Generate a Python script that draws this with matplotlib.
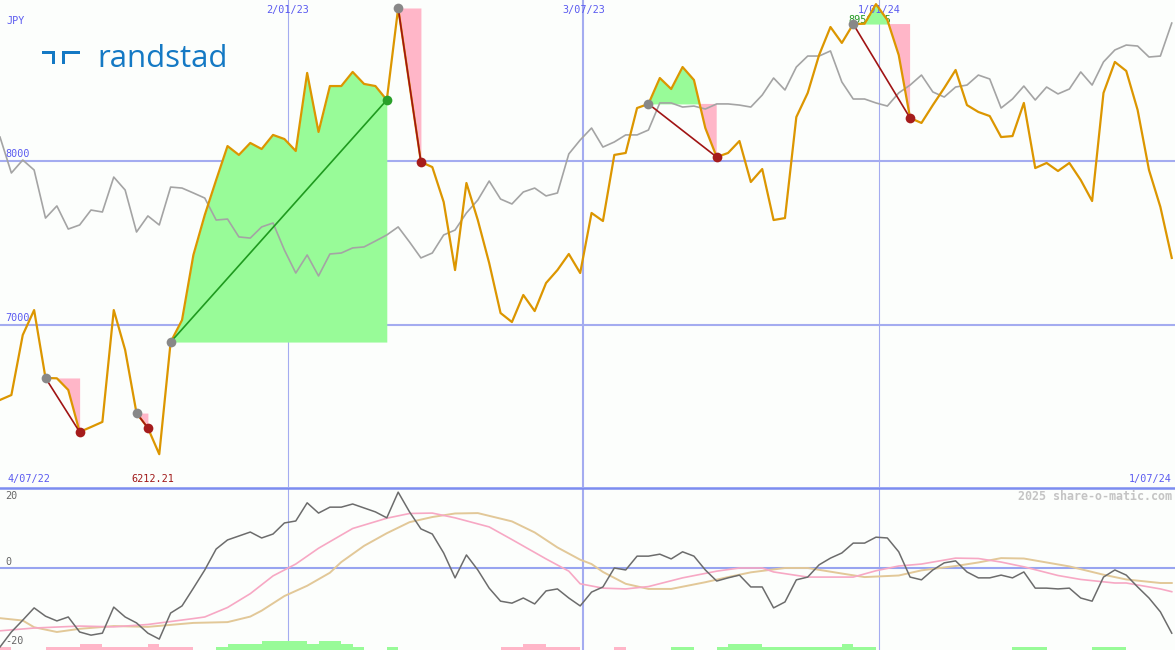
import numpy as np
import pandas as pd
import matplotlib
matplotlib.use("Agg")
import matplotlib.pyplot as plt
import matplotlib.dates as mdates
from matplotlib.patches import Rectangle
from matplotlib.lines import Line2D

# ---------------- data ----------------
dates = pd.date_range("2022-07-09", periods=104, freq="7D")
axis_start = "2022-07-04"
axis_end = "2024-07-01"
currency = "JPY"

price = [6543, 6573, 6939, 7091, 6677, 6675, 6604, 6348, 6378, 6409,
         7091, 6848, 6463, 6372, 6212.21, 6896, 7030, 7427, 7671, 7884,
         8091, 8037, 8110, 8073, 8159, 8134, 8061, 8537, 8177, 8457,
         8457, 8543, 8470, 8457, 8372, 8933, 8463, 7994, 7963, 7750,
         7335, 7866, 7640, 7378, 7073, 7018, 7183, 7085, 7256, 7335,
         7433, 7317, 7683, 7634, 8037, 8049, 8323, 8348, 8506, 8439,
         8573, 8494, 8201, 8024, 8049, 8122, 7872, 7951, 7640, 7652,
         8268, 8415, 8646, 8817, 8720, 8835, 8837, 8956.45, 8860, 8646,
         8262, 8232, 8341, 8445, 8555, 8341, 8299, 8274, 8146, 8152,
         8354, 7957, 7988, 7939, 7988, 7884, 7756, 8415, 8604, 8549,
         8311, 7945, 7720, 7409]

index_rel = [8146, 7927, 8006, 7945, 7652, 7726, 7585, 7610, 7701, 7689,
             7902, 7823, 7567, 7665, 7610, 7841, 7835, 7805, 7774, 7640,
             7646, 7537, 7530, 7598, 7622, 7457, 7317, 7427, 7299, 7433,
             7439, 7470, 7476, 7512, 7549, 7598, 7506, 7409, 7439, 7549,
             7579, 7683, 7762, 7878, 7768, 7738, 7811, 7835, 7787, 7805,
             8043, 8128, 8201, 8085, 8116, 8159, 8159, 8189, 8354, 8354,
             8329, 8335, 8317, 8348, 8348, 8341, 8329, 8402, 8506, 8433,
             8573, 8640, 8640, 8671, 8482, 8378, 8378, 8354, 8335, 8415,
             8463, 8524, 8421, 8390, 8451, 8463, 8524, 8500, 8323, 8378,
             8457, 8372, 8451, 8409, 8439, 8543, 8463, 8604, 8677, 8707,
             8701, 8634, 8640, 8841]

momentum = [-20.0, -16.2, -13.2, -10.1, -12.2, -13.4, -12.4, -16.2, -17.0, -16.5,
            -9.9, -12.4, -13.9, -16.5, -18.0, -11.4, -9.6, -5.1, -0.5, 4.8,
            7.1, 8.1, 9.1, 7.6, 8.6, 11.4, 11.9, 16.5, 13.9, 15.4,
            15.4, 16.2, 15.2, 14.2, 12.7, 19.2, 14.2, 9.9, 8.6, 3.8,
            -2.5, 3.3, -0.5, -5.1, -8.4, -8.9, -7.6, -9.1, -5.8, -5.3,
            -7.6, -9.6, -6.1, -4.8, 0.0, -0.5, 3.0, 3.0, 3.5, 2.3,
            4.1, 3.0, -0.5, -3.3, -2.5, -1.8, -4.8, -4.8, -10.1, -8.6,
            -3.0, -2.3, 0.8, 2.5, 3.8, 6.3, 6.3, 7.8, 7.6, 4.1,
            -2.3, -3.0, -0.5, 1.3, 1.8, -1.0, -2.5, -2.5, -1.8, -2.5,
            -1.0, -5.1, -5.1, -5.3, -5.1, -7.6, -8.4, -2.3, -0.5, -1.8,
            -4.8, -7.6, -11.1, -16.5]

sig_fast_wk = [0, 3, 7, 10, 13, 17, 18, 20, 22, 24, 26, 28, 31, 34, 36, 38, 40,
               43, 45, 48, 50, 51, 53, 55, 57, 60, 63, 65, 67, 68, 71, 75, 77,
               79, 81, 84, 86, 88, 90, 93, 95, 98, 99, 102, 103]
sig_fast = [-15.9, -15.2, -14.7, -14.9, -14.3, -12.8, -12.4, -10.0, -6.5, -2.0,
            1.0, 5.0, 10.0, 12.6, 13.8, 13.9, 12.7, 10.4, 7.2, 2.3, -0.8, -4.0,
            -5.1, -5.3, -4.7, -2.5, -0.8, 0.0, 0.0, -1.0, -2.3, -2.3, -0.7,
            0.5, 1.0, 2.5, 2.4, 1.5, 0.3, -1.9, -2.9, -3.8, -3.8, -5.3, -6.0]

sig_slow_wk = [0, 2, 3, 5, 7, 10, 13, 17, 20, 22, 23, 25, 27, 29, 30, 32, 34,
               36, 38, 40, 42, 45, 47, 49, 51, 52, 53, 55, 57, 59, 62, 64, 66,
               69, 71, 74, 76, 79, 81, 84, 86, 88, 90, 92, 94, 97, 99, 102, 103]
sig_slow = [-12.7, -13.3, -15.0, -16.2, -15.4, -14.7, -14.9, -13.9, -13.7, -12.3,
            -10.8, -7.1, -4.5, -1.2, 1.5, 5.6, 8.8, 11.6, 12.9, 13.8, 13.9, 11.8,
            9.0, 5.2, 2.1, 1.0, -1.0, -4.0, -5.3, -5.3, -3.6, -2.3, -1.1, 0.0,
            0.0, -1.4, -2.3, -1.9, -0.6, 0.5, 1.4, 2.5, 2.4, 1.4, 0.4, -1.7,
            -2.9, -3.8, -3.8]

hist_level = [-1, 0, 0, 0, -1, -1, -1, -2, -2, -1,
              -1, -1, -1, -2, -1, -1, -1, 0, 0, 1,
              2, 2, 2, 3, 3, 3, 3, 2, 3, 3,
              2, 1, 0, 0, 1, 0, 0, 0, 0, 0,
              0, 0, 0, 0, -1, -1, -2, -2, -1, -1,
              -1, 0, 0, 0, -1, 0, 0, 0, 0, 1,
              1, 0, 0, 1, 2, 2, 2, 1, 1, 1,
              1, 1, 1, 1, 2, 1, 1, 0, 0, 0,
              0, 0, 0, 0, 0, 0, 0, 0, 0, 1,
              1, 1, 0, 0, 0, 0, 1, 1, 1, 0,
              0, 0, 0, 0]

trades = [(4, 7), (12, 13), (15, 34), (35, 37), (57, 63), (75, 80)]

price_ticks = [8000, 7000]
osc_ticks = [20, 0, -20]
grid_dates = ["2023-01-02", "2023-07-03", "2024-01-01"]

# ---------------- style ----------------
W, H = 1175, 650
BG = "#fcfefc"
GRID = "#a4acf0"
BLUE_TXT = "#5a5af0"
ORANGE = "#dc9600"
GREY_LINE = "#a4a4a4"
GREEN_FILL = "#98fb98"
PINK_FILL = "#ffb6c8"
MONO = "DejaVu Sans Mono"


def fmt_date(t):
    t = pd.Timestamp(t)
    return f"{t.day}/{t.month:02d}/{t.strftime('%y')}"


def dnum(t):
    return mdates.date2num(pd.Timestamp(t).to_pydatetime())


def fig_xy(x, y):
    return (x / W, 1 - y / H)


fig = plt.figure(figsize=(W / 100, H / 100), dpi=100, facecolor=BG)
ax1 = fig.add_axes([0, 163 / H, 1, 487 / H])
ax2 = fig.add_axes([0, 0, 1, 162 / H])
for ax in (ax1, ax2):
    ax.axis("off")
    ax.set_xlim(dnum(dates[0]), dnum(axis_end))
ax1.set_ylim(6012.2, 8981.7)
ax2.set_ylim(-20.76, 20.25)

xd = mdates.date2num(dates.to_pydatetime())
price_arr = np.array(price, dtype=float)

# grid lines
for d in grid_dates:
    t = pd.Timestamp(d)
    lw = 1.5 if t.month == 7 else 0.8
    for ax in (ax1, ax2):
        ax.axvline(dnum(t), color=GRID, lw=lw, zorder=0)
    ax1.annotate(fmt_date(t), xy=(dnum(t), 1), xycoords=ax1.get_xaxis_transform(),
                 xytext=(0, -4.5), textcoords="offset pixels", ha="center", va="top",
                 color=BLUE_TXT, family=MONO, fontsize=7.3)

for v in price_ticks:
    ax1.axhline(v, color=GRID, lw=1.5, zorder=0)
    ax1.annotate(str(v), xy=(0, v), xycoords=ax1.get_yaxis_transform(),
                 xytext=(5, 2), textcoords="offset pixels", ha="left", va="bottom",
                 color=BLUE_TXT, family=MONO, fontsize=7.3)

ax2.axhline(0, color="#98a4f0", lw=1.5, zorder=0)
top_val = ax2.get_ylim()[1]
for v in osc_ticks:
    if v >= top_val - 2:
        ax2.annotate(str(v), xy=(0, 1), xycoords="axes fraction", xytext=(5, -3),
                     textcoords="offset pixels", ha="left", va="top",
                     color="#666666", family=MONO, fontsize=7.3)
    else:
        ax2.annotate(str(v), xy=(0, v), xycoords=ax2.get_yaxis_transform(),
                     xytext=(5, 1), textcoords="offset pixels", ha="left", va="bottom",
                     color="#666666", family=MONO, fontsize=7.3)

# comparison index and price
ax1.plot(xd, index_rel, color=GREY_LINE, lw=1.2, zorder=2)
ax1.plot(xd, price_arr, color=ORANGE, lw=1.6, zorder=3)

# trades
for s, e in trades:
    xs = xd[s:e + 1]
    ys = price_arr[s:e + 1]
    base = price_arr[s]
    ax1.fill_between(xs, ys, base, where=ys >= base, interpolate=True,
                     color=GREEN_FILL, lw=0, zorder=1)
    ax1.fill_between(xs, ys, base, where=ys <= base, interpolate=True,
                     color=PINK_FILL, lw=0, zorder=1)
    win = price_arr[e] > base
    lc = "#1f9a1f" if win else "#a01414"
    mc = "#2aa02a" if win else "#a51c1c"
    ax1.plot([xd[s], xd[e]], [base, price_arr[e]], color=lc, lw=1.2, zorder=4)
    ax1.plot(xd[s], base, "o", ms=7, color="#888888", mec="none", zorder=5)
    ax1.plot(xd[e], price_arr[e], "o", ms=7, color=mc, mec="none", zorder=5)

# max / min labels
imax = int(np.argmax(price_arr))
imin = int(np.argmin(price_arr))
ax1.annotate(f"{price_arr[imax]:.2f}", xy=(xd[imax], 1), xycoords=ax1.get_xaxis_transform(),
             xytext=(-6, -15), textcoords="offset pixels", ha="center", va="top",
             color="#229922", family=MONO, fontsize=7.3, zorder=0.5)
ax1.annotate(f"{price_arr[imin]:.2f}", xy=(xd[imin], 0), xycoords=ax1.get_xaxis_transform(),
             xytext=(-6, 3), textcoords="offset pixels", ha="center", va="bottom",
             color="#a01818", family=MONO, fontsize=7.3)

# axis date range labels
ax1.annotate(fmt_date(axis_start), xy=(0, 0), xycoords="axes fraction", xytext=(8, 3),
             textcoords="offset pixels", ha="left", va="bottom",
             color=BLUE_TXT, family=MONO, fontsize=7.3)
ax1.annotate(fmt_date(axis_end), xy=(1, 0), xycoords="axes fraction", xytext=(-3, 3),
             textcoords="offset pixels", ha="right", va="bottom",
             color=BLUE_TXT, family=MONO, fontsize=7.3)
ax1.annotate(currency, xy=(0, 1), xycoords="axes fraction", xytext=(6, -16),
             textcoords="offset pixels", ha="left", va="top",
             color=BLUE_TXT, family=MONO, fontsize=7.3)

# lower panel
mom_bottom = ax2.get_ylim()[0]
lvl = np.array(hist_level)
unit = 0.76
ax2.bar(xd, np.abs(lvl) * unit, bottom=mom_bottom, width=7, align="edge",
        color=[GREEN_FILL if v > 0 else PINK_FILL for v in lvl], lw=0, zorder=1)
ax2.plot(xd[sig_slow_wk], sig_slow, color="#e2c898", lw=1.4, zorder=2)
ax2.plot(xd[sig_fast_wk], sig_fast, color="#f7a8c4", lw=1.2, zorder=2)
ax2.plot(xd, momentum, color="#6c6c6c", lw=1.1, zorder=3)

# divider
fig.add_artist(Line2D([0, 1], [1 - 487.5 / H] * 2, transform=fig.transFigure,
                      color="#7c8cf0", lw=1.8))

fig.text(*fig_xy(1172, 490), "2025 share-o-matic.com", ha="right", va="top",
         color="#c4c4c4", family=MONO, weight="bold", fontsize=8.4)

# logo
LOGO = "#1479c4"
for (x0, y0, x1, y1) in [(42, 51, 55, 54), (52, 51, 55, 64), (62, 51, 65, 64), (62, 51, 80, 54)]:
    fx0, fy1 = fig_xy(x0, y1)
    fx1, fy0 = fig_xy(x1, y0)
    fig.add_artist(Rectangle((fx0, fy1), fx1 - fx0, fy0 - fy1, transform=fig.transFigure,
                             color=LOGO, lw=0))
fig.text(*fig_xy(97, 67), "randstad", family="Open Sans", fontsize=22.5, color=LOGO,
         ha="left", va="baseline")

fig.savefig("out.png", dpi=100, facecolor=BG)
